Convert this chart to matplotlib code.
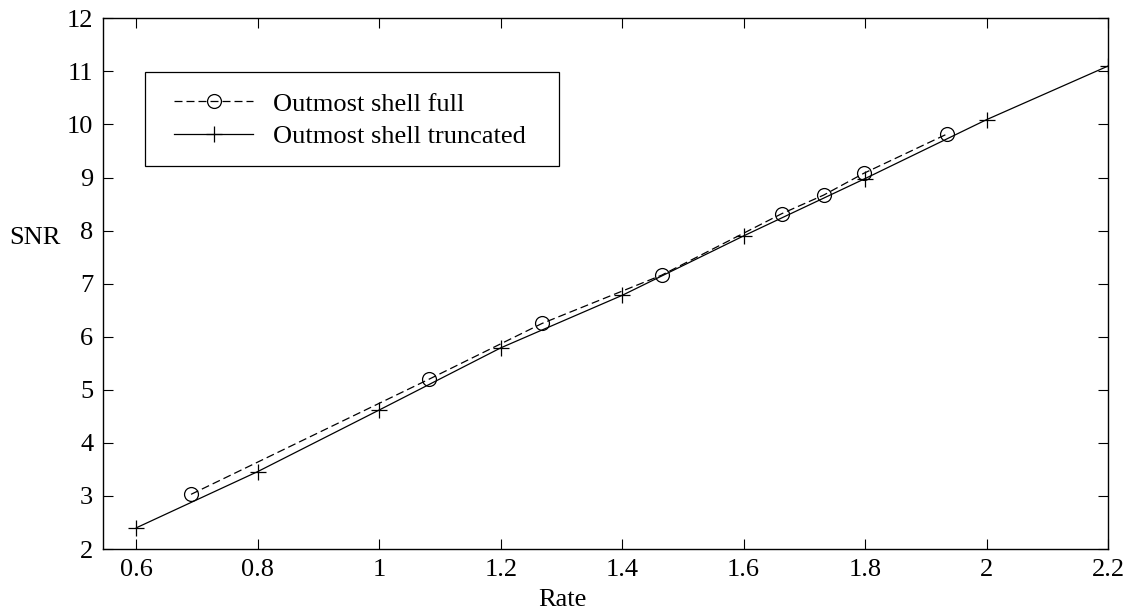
import matplotlib
matplotlib.use("Agg")
import matplotlib.pyplot as plt
from matplotlib.patches import Rectangle

# ---- data ----
full_rate = [0.690, 1.082, 1.268, 1.465, 1.663, 1.732, 1.798, 1.935]
full_snr = [3.03, 5.20, 6.25, 7.16, 8.32, 8.67, 9.08, 9.82]

trunc_rate = [0.6, 0.8, 1.0, 1.2, 1.4, 1.6, 1.8, 2.0, 2.2]
trunc_snr = [2.40, 3.46, 4.62, 5.79, 6.78, 7.90, 8.98, 10.09, 11.10]

xticks = [0.6, 0.8, 1.0, 1.2, 1.4, 1.6, 1.8, 2.0, 2.2]
xticklabels = ["0.6", "0.8", "1", "1.2", "1.4", "1.6", "1.8", "2", "2.2"]
yticks = [2, 3, 4, 5, 6, 7, 8, 9, 10, 11, 12]
yticklabels = ["2", "3", "4", "5", "6", "7", "8", "9", "10", "11", "12"]

labels = ["Outmost shell full", "Outmost shell truncated"]

plt.rcParams['font.family'] = ['Liberation Serif', 'DejaVu Serif']
FS = 19

fig = plt.figure(figsize=(11.26, 6.12), dpi=100)
ax = fig.add_axes([103 / 1126, 1 - 549 / 612, (1108 - 103) / 1126, (549 - 18.3) / 612])

ax.plot(full_rate, full_snr, color='black', lw=0.9, linestyle=(0, (6.4, 3.2)),
        marker='o', markersize=10, markerfacecolor='none', markeredgewidth=0.9,
        label=labels[0])
ax.plot(trunc_rate, trunc_snr, color='black', lw=0.9, linestyle='-',
        marker='+', markersize=11, markeredgewidth=0.9, label=labels[1])

ax.set_xlim(0.545, 2.2)
ax.set_ylim(2, 12)
ax.set_xticks(xticks)
ax.set_xticklabels(xticklabels, fontsize=FS)
ax.set_yticks(yticks)
ax.set_yticklabels(yticklabels, fontsize=FS)
ax.tick_params(direction='in', length=7.2, width=0.8, top=True, right=True,
               colors='black')
ax.tick_params(axis='x', pad=7)
ax.tick_params(axis='y', pad=7)
for s in ax.spines.values():
    s.set_linewidth(1.0)
    s.set_color('black')

ax.set_xlabel("Rate", fontsize=FS)
ax.xaxis.set_label_coords(0.457, -0.096)
ax.xaxis.label.set_va('center')
ax.set_ylabel("SNR", fontsize=FS, rotation=0, ha='center', va='center')
ax.yaxis.set_label_coords(-0.068, 0.586)

# legend frame
ax.add_patch(Rectangle((0.042, 0.721), 0.412, 0.177, transform=ax.transAxes,
                       facecolor='white', edgecolor='black', lw=0.9, zorder=4))
leg = ax.legend(loc='upper left', bbox_to_anchor=(0.0706, 0.861),
                borderaxespad=0, fontsize=FS, frameon=False, handlelength=3.0,
                handletextpad=0.75, borderpad=0, labelspacing=0.35)
leg.set_zorder(5)

fig.savefig("out.png", dpi=100, facecolor='white')
